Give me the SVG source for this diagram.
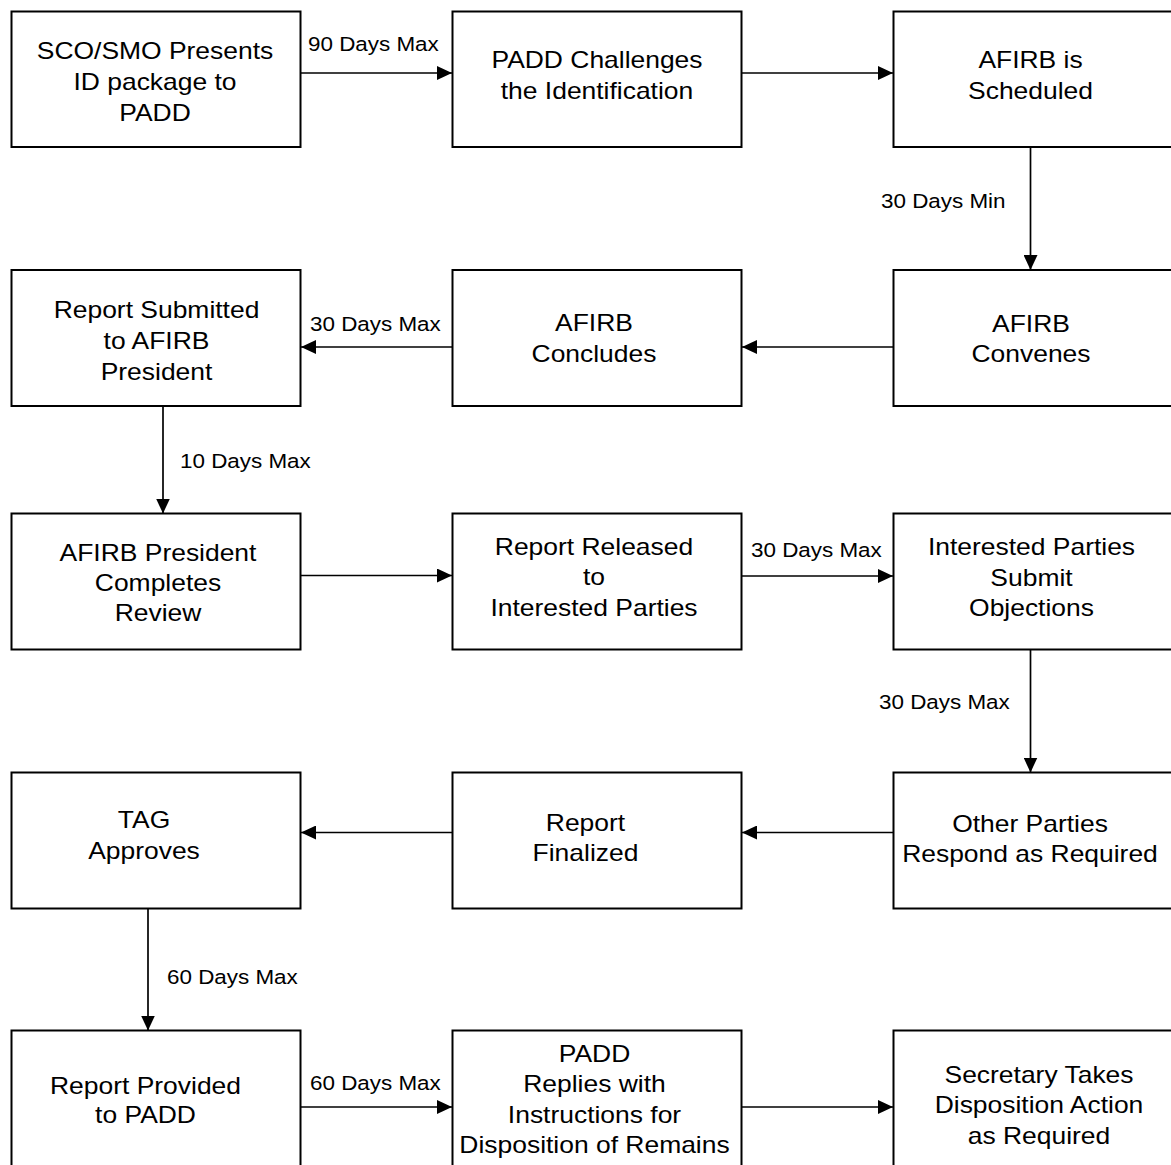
<svg xmlns="http://www.w3.org/2000/svg" width="1171" height="1165" viewBox="0 0 1171 1165">
<style>
.box{fill:#fff;stroke:#000;stroke-width:2}
.c{fill:none;stroke:#000;stroke-width:1.7}
.t{font-family:"Liberation Sans",Arial,sans-serif;font-size:23px;text-anchor:middle;fill:#000}
.l{font-family:"Liberation Sans",Arial,sans-serif;font-size:19.5px;text-anchor:start;fill:#000}
</style>
<defs>
<marker id="ah" viewBox="0 0 15 14" refX="15" refY="7" markerWidth="15" markerHeight="14" markerUnits="userSpaceOnUse" orient="auto">
<path d="M0,0 L15,7 L0,14 z" fill="#000"/>
</marker>
</defs>
<rect width="1171" height="1165" fill="#fff"/>

<g id="connectors">
<line class="c" x1="301" y1="73" x2="452" y2="73" marker-end="url(#ah)"/>
<line class="c" x1="742" y1="73" x2="893" y2="73" marker-end="url(#ah)"/>
<line class="c" x1="1030.5" y1="147" x2="1030.5" y2="270" marker-end="url(#ah)"/>
<line class="c" x1="893" y1="347" x2="742" y2="347" marker-end="url(#ah)"/>
<line class="c" x1="452" y1="347" x2="301" y2="347" marker-end="url(#ah)"/>
<line class="c" x1="163" y1="406" x2="163" y2="513.5" marker-end="url(#ah)"/>
<line class="c" x1="301" y1="575.5" x2="452" y2="575.5" marker-end="url(#ah)"/>
<line class="c" x1="742" y1="576" x2="893" y2="576" marker-end="url(#ah)"/>
<line class="c" x1="1030.5" y1="649.5" x2="1030.5" y2="772.5" marker-end="url(#ah)"/>
<line class="c" x1="893" y1="832.5" x2="742" y2="832.5" marker-end="url(#ah)"/>
<line class="c" x1="452" y1="832.5" x2="301" y2="832.5" marker-end="url(#ah)"/>
<line class="c" x1="148" y1="908.5" x2="148" y2="1030.5" marker-end="url(#ah)"/>
<line class="c" x1="301" y1="1107" x2="452" y2="1107" marker-end="url(#ah)"/>
<line class="c" x1="742" y1="1107" x2="893" y2="1107" marker-end="url(#ah)"/>
<text class="l" transform="translate(308 0) scale(1.15 1)" x="0" y="51">90 Days Max</text>
<text class="l" transform="translate(881 0) scale(1.15 1)" x="0" y="208">30 Days Min</text>
<text class="l" transform="translate(310 0) scale(1.15 1)" x="0" y="331.5">30 Days Max</text>
<text class="l" transform="translate(180 0) scale(1.15 1)" x="0" y="468">10 Days Max</text>
<text class="l" transform="translate(751 0) scale(1.15 1)" x="0" y="557">30 Days Max</text>
<text class="l" transform="translate(879 0) scale(1.15 1)" x="0" y="709">30 Days Max</text>
<text class="l" transform="translate(167 0) scale(1.15 1)" x="0" y="984">60 Days Max</text>
<text class="l" transform="translate(310 0) scale(1.15 1)" x="0" y="1090">60 Days Max</text>
</g>

<g id="n1"><rect class="box" x="11.5" y="11.5" width="289" height="135.5"/>
<text class="t" transform="translate(155 0) scale(1.15 1)"><tspan x="0" y="59.5">SCO/SMO Presents</tspan><tspan x="0" y="90.5">ID package to</tspan><tspan x="0" y="121.5">PADD</tspan></text></g>
<g id="n2"><rect class="box" x="452.5" y="11.5" width="289" height="135.5"/>
<text class="t" transform="translate(597 0) scale(1.15 1)"><tspan x="0" y="68">PADD Challenges</tspan><tspan x="0" y="99">the Identification</tspan></text></g>
<g id="n3"><rect class="box" x="893.5" y="11.5" width="280" height="135.5"/>
<text class="t" transform="translate(1030.5 0) scale(1.15 1)"><tspan x="0" y="68">AFIRB is</tspan><tspan x="0" y="99.5">Scheduled</tspan></text></g>

<g id="n4"><rect class="box" x="11.5" y="270" width="289" height="136"/>
<text class="t" transform="translate(156.5 0) scale(1.15 1)"><tspan x="0" y="318">Report Submitted</tspan><tspan x="0" y="349">to AFIRB</tspan><tspan x="0" y="380">President</tspan></text></g>
<g id="n5"><rect class="box" x="452.5" y="270" width="289" height="136"/>
<text class="t" transform="translate(594 0) scale(1.15 1)"><tspan x="0" y="331.5">AFIRB</tspan><tspan x="0" y="362.5">Concludes</tspan></text></g>
<g id="n6"><rect class="box" x="893.5" y="270" width="280" height="136"/>
<text class="t" transform="translate(1031 0) scale(1.15 1)"><tspan x="0" y="332.5">AFIRB</tspan><tspan x="0" y="362.5">Convenes</tspan></text></g>

<g id="n7"><rect class="box" x="11.5" y="513.5" width="289" height="136"/>
<text class="t" transform="translate(158 0) scale(1.15 1)"><tspan x="0" y="561.5">AFIRB President</tspan><tspan x="0" y="591">Completes</tspan><tspan x="0" y="621">Review</tspan></text></g>
<g id="n8"><rect class="box" x="452.5" y="513.5" width="289" height="136"/>
<text class="t" transform="translate(594 0) scale(1.15 1)"><tspan x="0" y="555">Report Released</tspan><tspan x="0" y="585.5">to</tspan><tspan x="0" y="616">Interested Parties</tspan></text></g>
<g id="n9"><rect class="box" x="893.5" y="513.5" width="280" height="136"/>
<text class="t" transform="translate(1031.5 0) scale(1.15 1)"><tspan x="0" y="555">Interested Parties</tspan><tspan x="0" y="586">Submit</tspan><tspan x="0" y="616">Objections</tspan></text></g>

<g id="n10"><rect class="box" x="11.5" y="772.5" width="289" height="136"/>
<text class="t" transform="translate(144 0) scale(1.15 1)"><tspan x="0" y="828">TAG</tspan><tspan x="0" y="859">Approves</tspan></text></g>
<g id="n11"><rect class="box" x="452.5" y="772.5" width="289" height="136"/>
<text class="t" transform="translate(585.5 0) scale(1.15 1)"><tspan x="0" y="831">Report</tspan><tspan x="0" y="861">Finalized</tspan></text></g>
<g id="n12"><rect class="box" x="893.5" y="772.5" width="280" height="136"/>
<text class="t" transform="translate(1030 0) scale(1.15 1)"><tspan x="0" y="832.5">Other Parties</tspan><tspan x="0" y="862">Respond as Required</tspan></text></g>

<g id="n13"><rect class="box" x="11.5" y="1030.5" width="289" height="140"/>
<text class="t" transform="translate(145.5 0) scale(1.15 1)"><tspan x="0" y="1094">Report Provided</tspan><tspan x="0" y="1123">to PADD</tspan></text></g>
<g id="n14"><rect class="box" x="452.5" y="1030.5" width="289" height="140"/>
<text class="t" transform="translate(594.5 0) scale(1.15 1)"><tspan x="0" y="1062">PADD</tspan><tspan x="0" y="1092.5">Replies with</tspan><tspan x="0" y="1123">Instructions for</tspan><tspan x="0" y="1153">Disposition of Remains</tspan></text></g>
<g id="n15"><rect class="box" x="893.5" y="1030.5" width="280" height="140"/>
<text class="t" transform="translate(1039 0) scale(1.15 1)"><tspan x="0" y="1083">Secretary Takes</tspan><tspan x="0" y="1113.5">Disposition Action</tspan><tspan x="0" y="1144">as Required</tspan></text></g>
</svg>
